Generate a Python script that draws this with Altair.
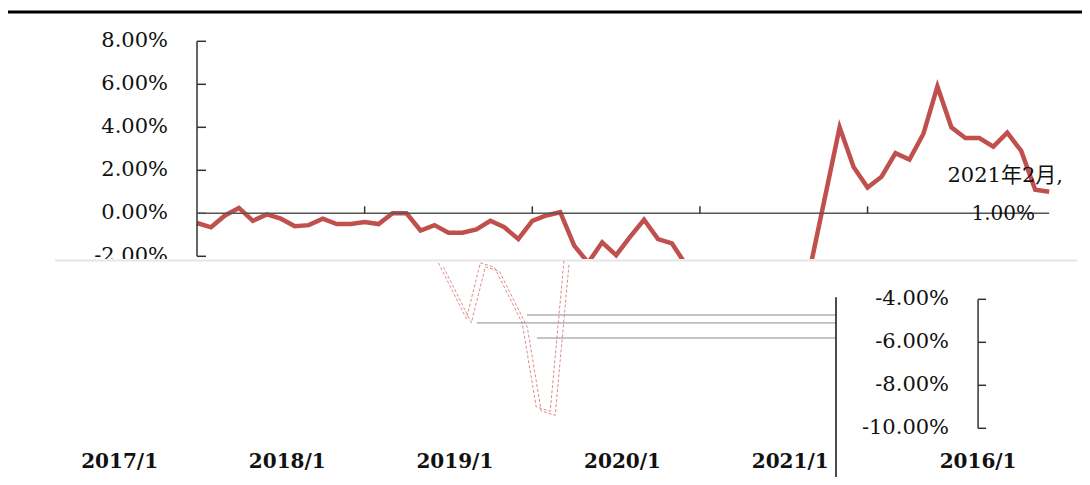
import altair as alt
import pandas as pd

# ---------------- data ----------------
years = [2016, 2017, 2018, 2019, 2020, 2021]
months = [f"{y}/{m}" for y in years for m in range(1, 13)][:62]
values = [
    -0.45, -0.65, -0.10, 0.25, -0.35, -0.05, -0.25, -0.60, -0.55, -0.25, -0.50, -0.50,   # 2016
    -0.40, -0.50, 0.00, 0.00, -0.80, -0.55, -0.90, -0.90, -0.75, -0.35, -0.65, -1.20,    # 2017
    -0.35, -0.10, 0.05, -1.50, -2.30, -1.35, -1.95, -1.10, -0.30, -1.20, -1.40, -2.40,   # 2018
    -3.70, -5.00, -2.40, -2.60, -3.90, -5.20, -9.10, -9.30, -2.20, 0.90, 4.00, 2.15,     # 2019
    1.20, 1.70, 2.80, 2.50, 3.70, 5.90, 4.00, 3.50, 3.50, 3.10, 3.75, 2.90,              # 2020
    1.10, 1.00,                                                                          # 2021
]
upper_ticks = [-2, 0, 2, 4, 6, 8]
lower_ticks = [-4, -6, -8, -10]
year_labels = ["2016/1", "2017/1", "2018/1", "2019/1", "2020/1", "2021/1"]
year_idx = [0, 12, 24, 36, 48, 60]

# ---------------- layout constants ----------------
W, H = 1074, 469
X_DOMAIN = [-13.53, 63.35]
Y_DOMAIN = [-12.265, 9.549]
CUT = -2.13          # where the upper picture is torn off
SHIFT = 17.54        # horizontal displacement of the torn lower strip (months)
WRAP = 73.45         # wrap-around width of the lower strip (months)
RED = "#C0504D"
GHOST = "#E08A8A"
INK = "#111111"
AXIS = "#333333"
SERIF = "DejaVu Serif, Noto Sans CJK SC"

xs = alt.Scale(domain=X_DOMAIN, nice=False, zero=False)
ys = alt.Scale(domain=Y_DOMAIN, nice=False, zero=False)

def XF(f):
    return alt.X(f"{f}:Q", scale=xs, axis=None)

def YF(f):
    return alt.Y(f"{f}:Q", scale=ys, axis=None)

def XD(v):
    return alt.XDatum(v, type="quantitative", scale=xs, axis=None)

def YD(v):
    return alt.YDatum(v, type="quantitative", scale=ys, axis=None)

one = pd.DataFrame({"a": [0]})

df = pd.DataFrame({"idx": list(range(len(values))), "month": months, "value": values})

# main line
line = alt.Chart(df).mark_line(color=RED, strokeWidth=4.5).encode(x=XF("idx"), y=YF("value"))

# upper y axis
up = pd.DataFrame({"v": upper_ticks, "label": [f"{t:.2f}%" for t in upper_ticks]})
up_line = alt.Chart(one).mark_rule(color=AXIS, strokeWidth=1.5).encode(
    x=XD(0), y=YD(upper_ticks[0]), y2=alt.Y2Datum(upper_ticks[-1]))
up_ticks = alt.Chart(up).mark_rule(color=AXIS, strokeWidth=1.5, x2Offset=9).encode(
    x=XD(0), x2=alt.X2Datum(0), y=YF("v"))
up_labels = alt.Chart(up).mark_text(align="right", baseline="middle", dx=-29, font=SERIF,
                                    fontSize=21, color=INK).encode(x=XD(0), y=YF("v"), text="label:N")

# zero axis with yearly ticks
zero_line = alt.Chart(one).mark_rule(color="#555555", strokeWidth=1.5).encode(
    x=XD(0), x2=alt.X2Datum(len(values) - 1), y=YD(0))
yt = pd.DataFrame({"idx": year_idx[1:5]})
zero_ticks = alt.Chart(yt).mark_rule(color=AXIS, strokeWidth=1.5, y2Offset=-7).encode(
    x=XF("idx"), y=YD(0), y2=alt.Y2Datum(0))

# cover: the torn-off lower strip
cover = alt.Chart(one).mark_rect(color="white").encode(
    x=alt.value(0), x2=alt.value(W), y=YD(CUT), y2=alt.value(H))
tear = alt.Chart(one).mark_rule(color="#E6E6E6", strokeWidth=2).encode(
    x=alt.value(47), x2=alt.value(1069), y=YD(CUT - 0.07))

# annotation of last point
last = df.tail(1).copy()
y_, m_ = last["month"].iloc[0].split("/")
last["t1"] = f"{y_}年{m_}月,"
last["t2"] = last["value"].map(lambda v: f"{v:.2f}%")
ann1 = alt.Chart(last).mark_text(font=SERIF, fontSize=21, color=INK, dx=-44, dy=-16,
                                 baseline="middle").encode(x=XF("idx"), y=YF("value"), text="t1:N")
ann2 = alt.Chart(last).mark_text(font=SERIF, fontSize=20, color=INK, dx=-46, dy=22,
                                 baseline="middle").encode(x=XF("idx"), y=YF("value"), text="t2:N")

# ghost of the hidden part, displaced
gdf = df[(df["idx"] >= 35) & (df["idx"] <= 44)].copy()
gdf["gx"] = gdf["idx"] - SHIFT
ghost1 = alt.Chart(gdf).mark_line(color=GHOST, strokeWidth=1, strokeDash=[3, 2], xOffset=-2.5,
                                  yOffset=-2).encode(x=XF("gx"), y=YF("value"))
ghost2 = alt.Chart(gdf).mark_line(color=GHOST, strokeWidth=1, strokeDash=[3, 2], xOffset=2.5,
                                  yOffset=2).encode(x=XF("gx"), y=YF("value"))

# stray grid lines in the lower strip
gl = pd.DataFrame({"v": [-4.73, -5.10, -5.80], "x0": [23.62, 20.04, 24.34], "x1": [45.74, 45.74, 45.74]})
grid = alt.Chart(gl).mark_rule(color="#8A8A8A", strokeWidth=1).encode(
    x=XF("x0"), x2="x1:Q", y=YF("v"))
vline = alt.Chart(one).mark_rule(color=INK, strokeWidth=1.5).encode(
    x=XD(45.74), y=YD(-3.91), y2=alt.value(H))

# lower y axis (displaced copy)
lo_x = 0 - SHIFT + WRAP
lo = pd.DataFrame({"v": lower_ticks, "label": [f"{t:.2f}%" for t in lower_ticks]})
lo_line = alt.Chart(one).mark_rule(color=AXIS, strokeWidth=1.5).encode(
    x=XD(lo_x), y=YD(lower_ticks[0]), y2=alt.Y2Datum(lower_ticks[-1]))
lo_ticks = alt.Chart(lo).mark_rule(color=AXIS, strokeWidth=1.5, x2Offset=8).encode(
    x=XD(lo_x), x2=alt.X2Datum(lo_x), y=YF("v"))
lo_labels = alt.Chart(lo).mark_text(align="right", baseline="middle", dx=-29, font=SERIF,
                                    fontSize=21, color=INK).encode(x=XD(lo_x), y=YF("v"), text="label:N")

# x labels (displaced, the one pushed off the left edge wraps to the right)
xl = pd.DataFrame({"label": year_labels,
                   "pos": [i - SHIFT + (WRAP if i - SHIFT < X_DOMAIN[0] else 0) for i in year_idx]})
x_labels = alt.Chart(xl).mark_text(font=SERIF, fontSize=20, fontWeight="bold", color=INK,
                                   baseline="middle").encode(x=XF("pos"), y=YD(-11.57), text="label:N")

# top border
border = alt.Chart(one).mark_rule(color="black", strokeWidth=3).encode(
    x=alt.value(0), x2=alt.value(W), y=alt.value(4))

chart = alt.layer(
    line, up_line, up_ticks, up_labels, zero_line, zero_ticks, ann1, ann2,
    cover, tear, ghost1, ghost2, grid, vline, lo_line, lo_ticks, lo_labels, x_labels, border,
).properties(
    width=W, height=H, padding=0, autosize=alt.AutoSizeParams(type="none"),
).configure_view(stroke=None)

chart.save("out.html", embed_options={"renderer": "svg", "actions": False})
